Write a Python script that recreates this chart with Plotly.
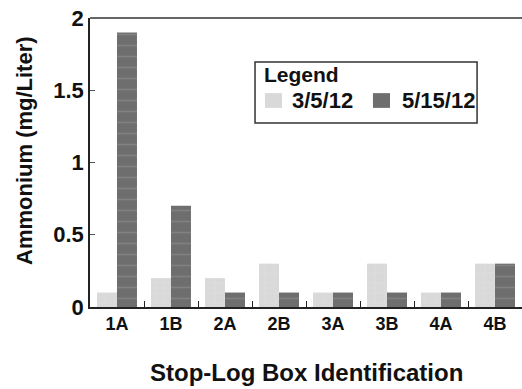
import plotly.graph_objects as go

# Ammonium concentration per stop-log box on two sampling dates
boxes = ["1A", "1B", "2A", "2B", "3A", "3B", "4A", "4B"]
march_5 = [0.1, 0.2, 0.2, 0.3, 0.1, 0.3, 0.1, 0.3]
may_15 = [1.9, 0.7, 0.1, 0.1, 0.1, 0.1, 0.1, 0.3]
series_names = ["3/5/12", "5/15/12"]
y_ticks = [0, 0.5, 1, 1.5, 2]

FONT = "Liberation Sans, Arial, sans-serif"
INK = "#111111"
LIGHT = "#d9d9d9"
DARK = "#6e6e6e"

fig = go.Figure()
fig.add_trace(go.Bar(
    x=boxes, y=march_5, name=series_names[0],
    marker=dict(color=LIGHT, line=dict(width=0),
                pattern=dict(shape="+", fgcolor="#e8e8e8", size=10, solidity=0.08)),
))
fig.add_trace(go.Bar(
    x=boxes, y=may_15, name=series_names[1],
    marker=dict(color=DARK, line=dict(width=0),
                pattern=dict(shape="-", fgcolor="#949494", size=11, solidity=0.15)),
))

fig.update_layout(
    width=522, height=389,
    margin=dict(l=90, r=0, t=18, b=82),
    paper_bgcolor="white", plot_bgcolor="white",
    barmode="group", bargap=0.26, bargroupgap=0,
    font=dict(family=FONT, color=INK),
    showlegend=False,
    xaxis=dict(
        showline=True, linecolor="#222222", linewidth=1.5,
        ticks="inside", ticklen=6, tickcolor="#222222", tickwidth=1.2,
        tickson="boundaries",
        tickvals=boxes, ticktext=["<b>%s</b>" % b for b in boxes],
        tickfont=dict(size=18, family=FONT, color=INK),
        range=[-0.5, 7.5],
    ),
    yaxis=dict(
        range=[0, 2], tickvals=y_ticks,
        ticktext=["<b>%g</b>" % v for v in y_ticks],
        showline=True, linecolor="#222222", linewidth=1.5,
        ticks="inside", ticklen=5, tickcolor="#555555",
        showgrid=False, zeroline=False,
        tickfont=dict(size=22, family=FONT, color=INK),
    ),
)

# Axis titles
fig.add_annotation(text="<b>Stop-Log Box Identification</b>", xref="paper", yref="paper",
                   x=0.5, y=-0.228, xanchor="center", yanchor="middle",
                   showarrow=False, font=dict(size=24, family=FONT, color=INK))
fig.add_annotation(text="<b>Ammonium (mg/Liter)</b>", xref="paper", yref="paper",
                   x=-0.153, y=0.543, xanchor="center", yanchor="middle", textangle=-90,
                   showarrow=False, font=dict(size=22, family=FONT, color=INK))

# Top frame line across the plot area
fig.add_shape(type="line", xref="paper", yref="paper", x0=0, x1=1, y0=1, y1=1,
              line=dict(color="#333333", width=1.5))

# Boxed legend: title row, then one swatch + label per series
fig.add_shape(type="rect", xref="paper", yref="paper",
              x0=0.382, x1=0.896, y0=0.637, y1=0.848,
              line=dict(color="#333333", width=1.5), fillcolor="white")
fig.add_annotation(text="<b>Legend</b>", xref="paper", yref="paper",
                   x=0.398, y=0.803, xanchor="left", yanchor="middle",
                   showarrow=False, font=dict(size=21, family=FONT, color=INK))
legend_items = [(series_names[0], LIGHT, 0.405, 0.463),
                (series_names[1], DARK, 0.655, 0.718)]
for name, color, sx, tx in legend_items:
    fig.add_shape(type="rect", xref="paper", yref="paper",
                  x0=sx, x1=sx + 0.0395, y0=0.689, y1=0.740,
                  line=dict(width=0), fillcolor=color)
    fig.add_annotation(text="<b>%s</b>" % name, xref="paper", yref="paper",
                       x=tx, y=0.714, xanchor="left", yanchor="middle",
                       showarrow=False, font=dict(size=22, family=FONT, color=INK))

fig.write_html("out.html")
